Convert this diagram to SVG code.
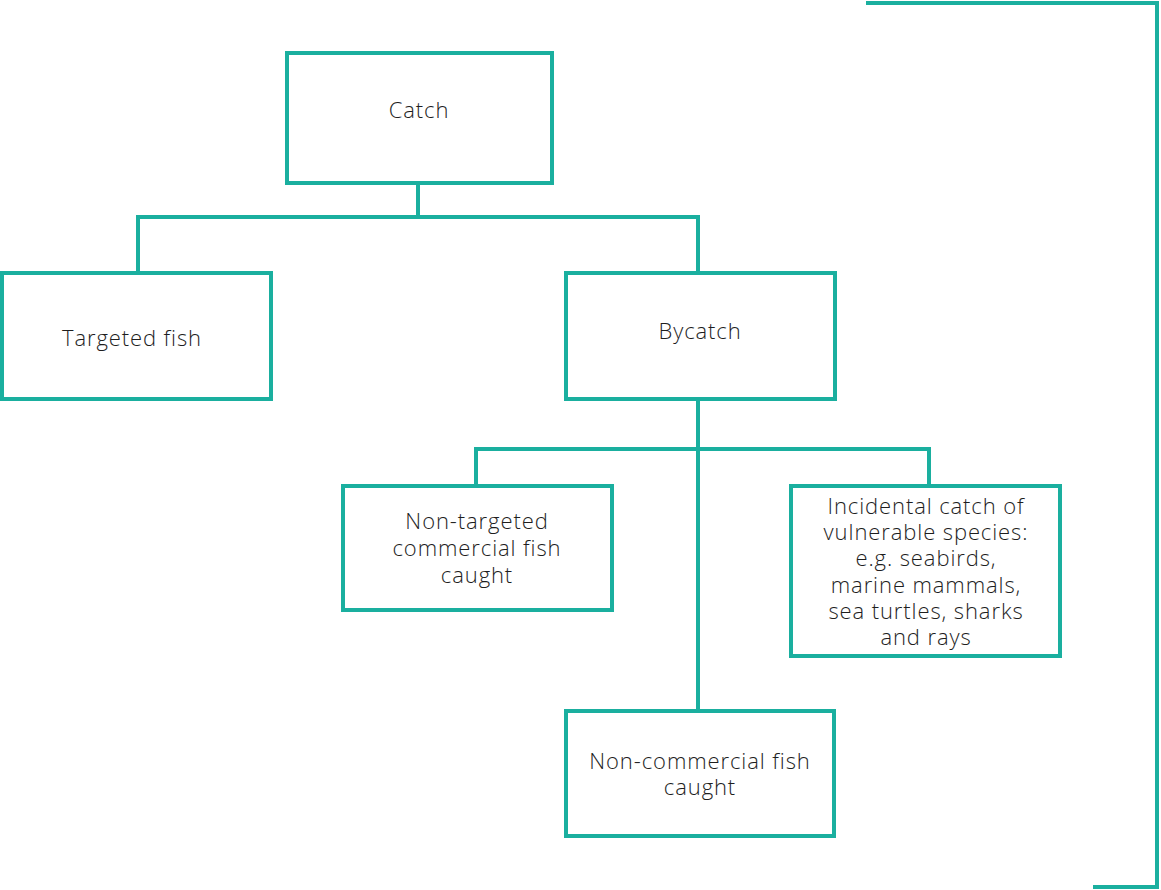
<svg xmlns="http://www.w3.org/2000/svg" width="1161" height="890" viewBox="0 0 1161 890">
<style>
.box{fill:#fff;stroke:#1aaf9f;stroke-width:4}
.ln{fill:none;stroke:#1aaf9f;stroke-width:4}
text{font-family:"Open Sans","Liberation Sans",sans-serif;font-size:22px;letter-spacing:0.9px;fill:#1e1e1e;text-anchor:middle;font-weight:300}
</style>
<rect width="1161" height="890" fill="#fff"/>
<g id="connectors">
<path class="ln" d="M418 183V217M138 273V217H698V273"/>
<path class="ln" d="M698 399V711"/>
<path class="ln" d="M476 486V449H929V486"/>
<path class="ln" d="M866 3H1157V887H1093"/>
</g>
<g id="catch"><rect class="box" x="287" y="53" width="265" height="130"/><text x="419" y="118">Catch</text></g>
<g id="targeted"><rect class="box" x="2" y="273" width="269" height="126"/><text x="132" y="346">Targeted fish</text></g>
<g id="bycatch"><rect class="box" x="566" y="273" width="269" height="126"/><text x="700" y="339">Bycatch</text></g>
<g id="nontargeted"><rect class="box" x="343" y="486" width="269" height="124"/><text x="477" y="529">Non-targeted</text><text x="477" y="556">commercial fish</text><text x="477" y="583">caught</text></g>
<g id="incidental"><rect class="box" x="791" y="486" width="269" height="170"/>
<text x="926" y="514">Incidental catch of</text><text x="926" y="540">vulnerable species:</text><text x="926" y="566">e.g. seabirds,</text><text x="926" y="593">marine mammals,</text><text x="926" y="619">sea turtles, sharks</text><text x="926" y="645">and rays</text></g>
<g id="noncommercial"><rect class="box" x="566" y="711" width="268" height="125"/><text x="700" y="769">Non-commercial fish</text><text x="700" y="795">caught</text></g>
</svg>
